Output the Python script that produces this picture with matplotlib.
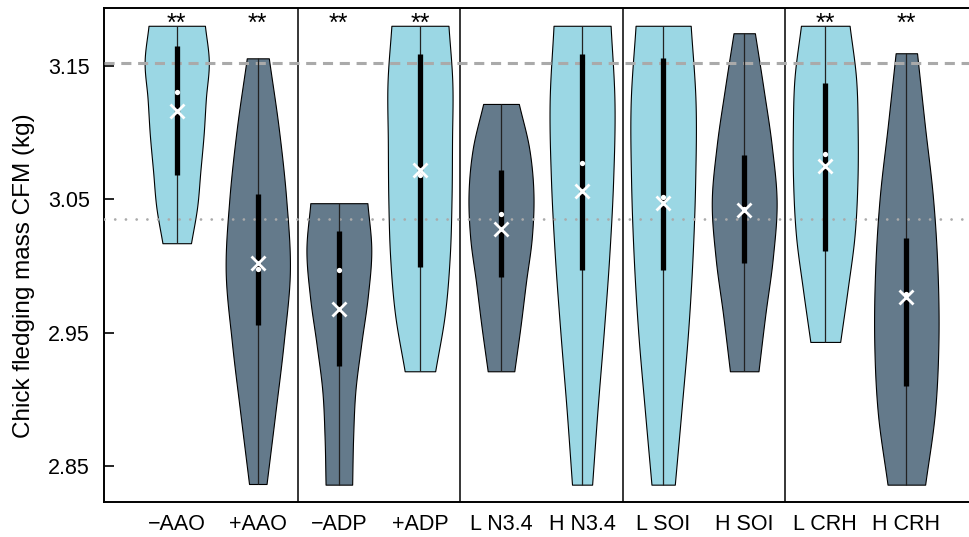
import numpy as np
import matplotlib
matplotlib.use("Agg")
import matplotlib.pyplot as plt

plt.rcParams["font.family"] = ["Liberation Sans", "DejaVu Sans"]

# ---- data -------------------------------------------------------------
labels = ["\u2212AAO", "+AAO", "\u2212ADP", "+ADP", "L N3.4", "H N3.4",
          "L SOI", "H SOI", "L CRH", "H CRH"]
group = ["lo", "hi", "hi", "lo", "hi", "lo", "lo", "hi", "lo", "hi"]

mins = [3.017, 2.8365, 2.836, 2.921, 2.921, 2.836, 2.836, 2.921, 2.943, 2.836]
maxs = [3.180, 3.1556, 3.047, 3.180, 3.1214, 3.180, 3.180, 3.1744, 3.180, 3.1594]
q1 = [3.068, 2.956, 2.925, 2.999, 2.992, 2.997, 2.997, 3.002, 3.011, 2.910]
q3 = [3.165, 3.054, 3.026, 3.159, 3.072, 3.159, 3.156, 3.083, 3.137, 3.021]
medians = [3.130, 2.998, 2.997, 3.068, 3.039, 3.077, 3.052, 3.043, 3.084, 2.979]
means = [3.116, 3.002, 2.968, 3.072, 3.028, 3.056, 3.047, 3.042, 3.075, 2.977]

# relative density at 7 evenly spaced levels from min (first) to max (last)
density = [
    [0.44, 0.63, 0.73, 0.83, 0.90, 0.99, 0.87],
    [0.27, 0.54, 0.80, 0.99, 0.88, 0.65, 0.34],
    [0.41, 0.44, 0.51, 0.69, 0.89, 1.00, 0.88],
    [0.47, 0.77, 0.92, 0.975, 0.99, 1.00, 0.88],
    [0.41, 0.60, 0.77, 0.95, 1.00, 0.87, 0.55],
    [0.31, 0.48, 0.67, 0.84, 0.96, 1.00, 0.88],
    [0.36, 0.57, 0.77, 0.91, 0.99, 1.00, 0.85],
    [0.44, 0.65, 0.88, 1.00, 0.85, 0.60, 0.33],
    [0.46, 0.69, 0.90, 0.99, 1.00, 0.95, 0.75],
    [0.58, 0.88, 0.99, 0.96, 0.82, 0.57, 0.33],
]

significant = [True, True, True, True, False, False, False, False, True, True]
ref_dashed = 3.152
ref_dotted = 3.035
yticks = [2.85, 2.95, 3.05, 3.15]

colors = {"lo": "#9bd7e4", "hi": "#647a8b"}


def smooth_profile(knots, n=200):
    """Catmull-Rom interpolation through evenly spaced knots."""
    p = np.asarray(knots, dtype=float)
    m = len(p)
    t = np.linspace(0, m - 1, n)
    tan = np.empty(m)
    tan[1:-1] = (p[2:] - p[:-2]) / 2.0
    tan[0] = p[1] - p[0]
    tan[-1] = p[-1] - p[-2]
    idx = np.clip(np.floor(t).astype(int), 0, m - 2)
    s = t - idx
    h00 = 2 * s**3 - 3 * s**2 + 1
    h10 = s**3 - 2 * s**2 + s
    h01 = -2 * s**3 + 3 * s**2
    h11 = s**3 - s**2
    return t / (m - 1), h00 * p[idx] + h10 * tan[idx] + h01 * p[idx + 1] + h11 * tan[idx + 1]


# ---- figure -----------------------------------------------------------
fig = plt.figure(figsize=(9.69, 5.37), dpi=100)
ax = fig.add_axes([104 / 969, 35 / 537, 865 / 969, 494.5 / 537])

half_max = 0.4
positions = np.arange(1, len(labels) + 1)

for i, pos in enumerate(positions):
    frac, w = smooth_profile(density[i])
    yy = mins[i] + frac * (maxs[i] - mins[i])
    ax.fill_betweenx(yy, pos - half_max * w, pos + half_max * w,
                     facecolor=colors[group[i]], edgecolor="black",
                     linewidth=0.8, zorder=2)

# reference levels
ax.axhline(ref_dashed, color="#aaaaaa", lw=2.2, dashes=(3.3, 2.2), zorder=3)
ax.axhline(ref_dotted, color="#aaaaaa", lw=2.0, dashes=(0.01, 3.85),
           dash_capstyle="round", zorder=3)

for i, pos in enumerate(positions):
    ax.vlines(pos, mins[i], maxs[i], color="#222222", lw=0.9, zorder=4)
    ax.vlines(pos, q1[i], q3[i], color="black", lw=3.8, zorder=5,
              capstyle="butt")
    ax.plot(pos, medians[i], "o", color="white", ms=3.8, mew=0, zorder=6)
    ax.plot(pos, means[i], "x", color="white", ms=10.5, mew=2.0, zorder=7)
    if significant[i]:
        ax.text(pos, 3.1759, "**", ha="center", va="baseline",
                fontsize=18, color="black", zorder=8)

for sep in [2.5, 4.5, 6.5, 8.5]:
    ax.axvline(sep, color="black", lw=1.1, zorder=1)

ax.set_xlim(0.103, 10.773)
ax.set_ylim(2.823, 3.1937)

ax.set_yticks(yticks)
ax.set_yticklabels([f"{v:.2f}" for v in yticks])
ax.set_xticks(positions)
ax.set_xticklabels(labels)

ax.tick_params(axis="y", direction="in", length=7.2, width=1.2,
               labelsize=15.5, pad=10)
ax.tick_params(axis="x", length=0, labelsize=15.5, pad=8.5)

for side in ["left", "bottom", "top"]:
    ax.spines[side].set_linewidth(1.4)
ax.spines["right"].set_visible(False)

fig.text(24 / 969, 1 - 276 / 537, "Chick fledging mass CFM (kg)",
         rotation=90, ha="center", va="center", fontsize=17.5)

fig.savefig("out.png", dpi=100)
